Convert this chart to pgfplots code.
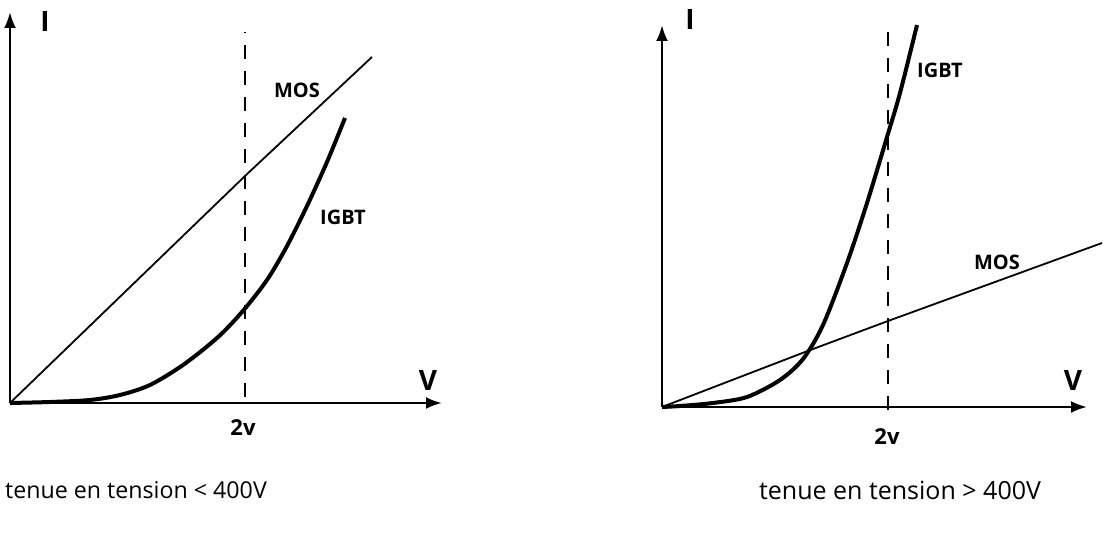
\documentclass[border=0pt]{standalone}
\usepackage{fontspec}
\setmainfont{Open Sans}
\usepackage{pgfplots}
\pgfplotsset{compat=1.18}
\usetikzlibrary{arrows.meta}

% one unit = one pixel of the reference = 0.5pt
\pgfplotsset{
  sketch/.style={
    x=0.5pt, y=0.5pt, xmin=0, ymin=0,
    axis lines=left, ticks=none, clip=false,
    anchor=south west,
    axis line style={line width=1.3pt, -{Latex[length=8pt,width=6pt]}},
  },
  mos/.style={black, line width=0.9pt, no marks},
  igbt/.style={black, line width=2pt, no marks, smooth},
  seuil/.style={black, line width=1pt, dash pattern=on 7pt off 6pt, no marks},
}
\tikzset{
  lbl/.style={font=\fontsize{10}{12}\selectfont\bfseries},
  axl/.style={font=\fontsize{14}{16}\selectfont\bfseries},
  legende/.style={font=\fontsize{12.5}{15}\selectfont},
}

\begin{document}
\begin{tikzpicture}
\useasboundingbox (0,0) rectangle (551.5pt,267pt);

% tenue en tension < 400V
\begin{axis}[sketch, at={(5pt,65.5pt)}, xmax=432, ymax=391]
\addplot[mos] coordinates {(0,0) (235,227) (362,346)};
\addplot[igbt] coordinates {
  (0,0) (40,1) (80,3) (110,8) (140,18) (173,38) (207,65)
  (232,91) (257,123) (277,157) (297,197) (317,241) (335,285)};
\addplot[seuil] coordinates {(235,6) (235,371)};
\node[axl] at (axis cs:35,381) {I};
\node[axl] at (axis cs:418,22) {V};
\node[lbl] at (axis cs:287,313) {MOS};
\node[lbl] at (axis cs:333,186) {IGBT};
\node[font=\fontsize{11}{13}\selectfont\bfseries] at (axis cs:233,-25) {2v};
\node[legende, font=\fontsize{11.6}{14}\selectfont] at (axis cs:126,-87) {tenue en tension < 400V};
\end{axis}

% tenue en tension > 400V
\begin{axis}[sketch, at={(331pt,63.5pt)}, xmax=425, ymax=382]
\addplot[mos] coordinates {(0,0) (143,55) (226,86) (440,164)};
\addplot[igbt] coordinates {
  (0,0) (18,1) (51,4) (85,10) (118,27) (141,48) (161,82)
  (185,144) (205,204) (225,270) (238,314) (255,382)};
\addplot[seuil] coordinates {(226,-3) (226,375)};
\node[axl] at (axis cs:28,387) {I};
\node[axl] at (axis cs:411,26) {V};
\node[lbl] at (axis cs:278,337) {IGBT};
\node[lbl] at (axis cs:335,145) {MOS};
\node[font=\fontsize{11}{13}\selectfont\bfseries] at (axis cs:225,-30) {2v};
\node[legende] at (axis cs:238,-83) {tenue en tension > 400V};
\end{axis}
\end{tikzpicture}
\end{document}
